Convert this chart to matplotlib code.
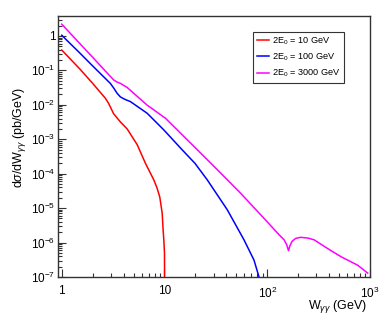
import matplotlib
matplotlib.use("Agg")
import matplotlib.pyplot as plt
from matplotlib.ticker import FixedLocator, FixedFormatter, NullFormatter

plt.rcParams["font.family"] = ["Liberation Sans", "DejaVu Sans"]
plt.rcParams["mathtext.fontset"] = "custom"
plt.rcParams["mathtext.rm"] = "Liberation Sans"
plt.rcParams["mathtext.it"] = "Liberation Sans:italic"
plt.rcParams["mathtext.sf"] = "Liberation Sans"

# 2E0 = 10 GeV
w_10 = [1.0, 1.5, 2.0, 2.66, 2.86, 3.2, 3.72, 4.33, 5.42, 6.53, 7.87, 8.45, 9.0, 9.5, 9.7, 9.85, 10.0, 10.05]
s_10 = [0.39, 0.11, 0.042, 0.0155, 0.011, 5.5e-3, 3.2e-3, 2.0e-3, 7.0e-4, 2.0e-4, 6.6e-5, 3.9e-5, 2.1e-5, 7.1e-6,
        2.3e-6, 1.2e-6, 5.0e-7, 1e-8]

# 2E0 = 100 GeV
w_100 = [1.0, 1.5, 2.0, 2.97, 3.2, 3.46, 3.72, 4.1, 4.66, 6.78, 9.8, 14.9, 19.8, 26.1, 40.9, 59.4, 74.3, 83.2, 88.0]
s_100 = [1.05, 0.32, 0.135, 0.042, 0.031, 0.0216, 0.017, 0.0145, 0.0124, 5.7e-3, 1.9e-3, 4.9e-4, 2.0e-4, 6.6e-5,
         8.9e-6, 1.2e-6, 3.1e-7, 1.0e-7, 3e-8]

# 2E0 = 3000 GeV
w_3000 = [1.0, 2.0, 3.0, 3.2, 3.45, 3.72, 4.33, 6.78, 10.2, 20.0, 32.7, 55.1, 100.0, 130.0, 146.0, 155.0, 161.0,
          166.0, 175.0, 190.0, 212.0, 250.0, 286.0, 400.0, 521.0, 759.0, 950.0]
s_3000 = [2.2, 0.24, 0.065, 0.053, 0.046, 0.042, 0.032, 9.8e-3, 4.1e-3, 5.6e-4, 1.3e-4, 2.7e-5, 4.0e-6, 1.7e-6,
          1.2e-6, 8.5e-7, 5.8e-7, 8.0e-7, 1.1e-6, 1.33e-6, 1.42e-6, 1.35e-6, 1.2e-6, 6.3e-7, 3.9e-7, 2.2e-7, 1.3e-7]

labels = [r"2E$_0$ = 10 GeV", r"2E$_0$ = 100 GeV", r"2E$_0$ = 3000 GeV"]
colors = ["#ff0000", "#0000ff", "#ff00ff"]

x_ticks = [1, 10, 100, 1000]
x_ticklabels = ["1", "10", r"10$^{2}$", r"10$^{3}$"]
y_ticks = [1e-7, 1e-6, 1e-5, 1e-4, 1e-3, 1e-2, 1e-1, 1]
y_ticklabels = [r"10$^{-7}$", r"10$^{-6}$", r"10$^{-5}$", r"10$^{-4}$",
                r"10$^{-3}$", r"10$^{-2}$", r"10$^{-1}$", "1"]

fig = plt.figure(figsize=(3.9, 3.27), dpi=100)
ax = fig.add_axes([58 / 390, 1 - 277 / 327, 312 / 390, 261 / 327])

for w, s, lab, c in zip([w_10, w_100, w_3000], [s_10, s_100, s_3000], labels, colors):
    ax.plot(w, s, color=c, lw=1.1, label=lab)

ax.set_xscale("log")
ax.set_yscale("log")
ax.set_xlim(0.92, 1000)
ax.set_ylim(1e-7, 3.8)

ax.xaxis.set_major_locator(FixedLocator(x_ticks))
ax.xaxis.set_major_formatter(FixedFormatter(x_ticklabels))
ax.yaxis.set_major_locator(FixedLocator(y_ticks))
ax.yaxis.set_major_formatter(FixedFormatter(y_ticklabels))
minors_x = [m * 10 ** e for e in range(0, 3) for m in range(2, 10)]
minors_y = [m * 10.0 ** e for e in range(-7, 1) for m in range(2, 10)]
ax.xaxis.set_minor_locator(FixedLocator(minors_x))
ax.yaxis.set_minor_locator(FixedLocator(minors_y))
ax.xaxis.set_minor_formatter(NullFormatter())
ax.yaxis.set_minor_formatter(NullFormatter())

ax.tick_params(which="both", direction="in", top=False, right=False,
               labelsize=8.5, color="#333333")
ax.tick_params(which="major", length=6, width=0.8)
ax.tick_params(which="minor", length=3, width=0.8)
ax.tick_params(axis="x", pad=6)
ax.tick_params(axis="y", pad=2)
for sp in ax.spines.values():
    sp.set_color("#333333")
    sp.set_linewidth(1.0)

fig.text(19 / 390, 1 - 137 / 327, r"d$\sigma$/dW$_{\gamma\gamma}$ (pb/GeV)",
         rotation=90, ha="center", va="center", fontsize=9)
fig.text(367 / 390, 1 - 306 / 327, r"W$_{\gamma\gamma}$ (GeV)",
         ha="right", va="center", fontsize=9)

leg = ax.legend(loc="upper left", bbox_to_anchor=(0.625, 0.939), fontsize=6.6,
                frameon=True, fancybox=False, framealpha=1, edgecolor="#333333",
                handlelength=1.3, handletextpad=0.35, labelspacing=0.5,
                borderpad=0.4, borderaxespad=0)
leg.get_frame().set_linewidth(0.8)

fig.savefig("out.png", dpi=100)
